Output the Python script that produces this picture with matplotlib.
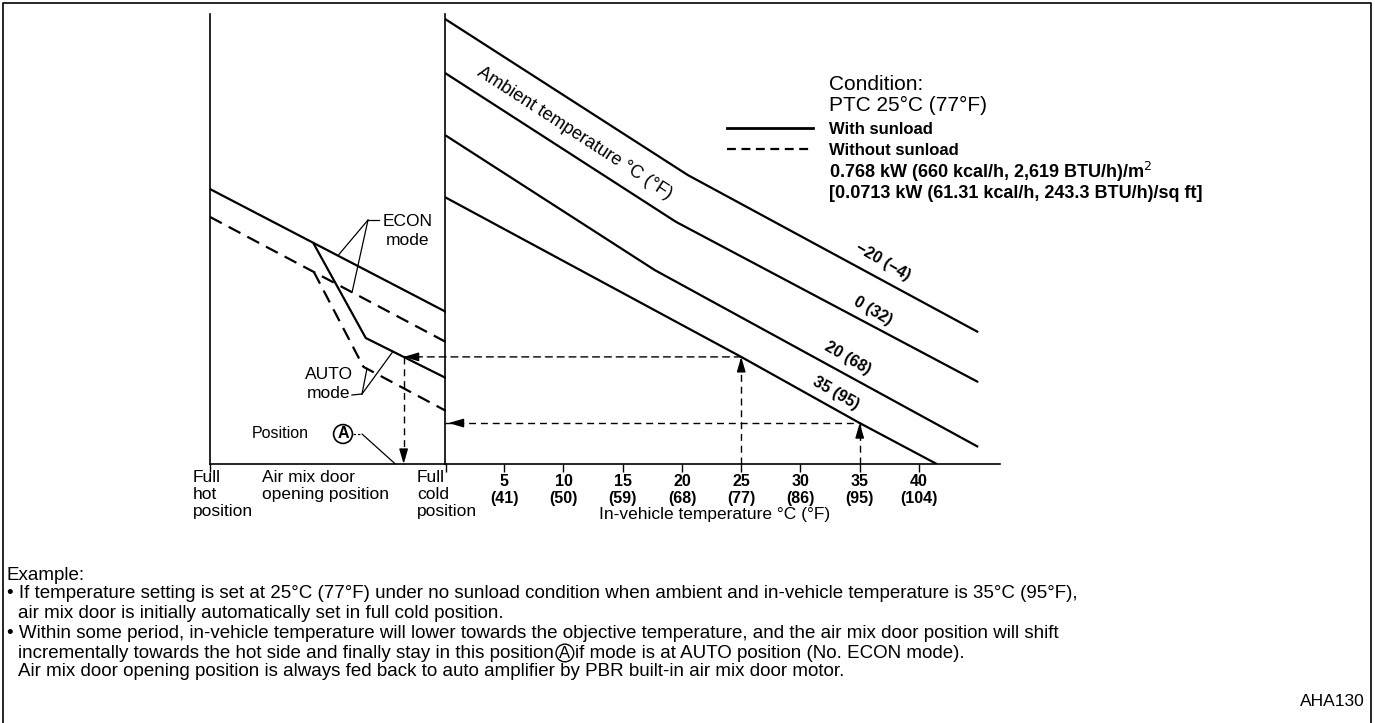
import numpy as np
import matplotlib
matplotlib.use("Agg")
from matplotlib import pyplot as plt
from matplotlib.patches import ConnectionPatch

plt.rcParams['font.family'] = ['Liberation Sans', 'DejaVu Sans']

W, H = 1375, 723

# right panel: in-vehicle temperature (deg C) vs. control level, one curve per ambient temperature
ambient_labels = ["\u221220 (\u22124)", "0 (32)", "20 (68)", "35 (95)"]
temp_m20 = [0, 20.5, 45]
level_m20 = [98.9, 64.2, 29.3]
temp_0 = [0, 19.5, 45]
level_0 = [86.9, 53.8, 18.2]
temp_20 = [0, 17.7, 45]
level_20 = [73.1, 43.1, 3.8]
temp_35 = [0, 25, 35, 41.5]
level_35 = [59.3, 23.8, 9.1, 0]

tick_c = [5, 10, 15, 20, 25, 30, 35, 40]
tick_f = [41, 50, 59, 68, 77, 86, 95, 104]

# left panel: air mix door position (0 = full hot, 100 = full cold) vs. control level
door_econ = [0, 100]
econ_sun = [61.1, 33.8]
econ_nosun = [54.9, 27.1]
door_auto_sun = [44, 66, 100]
auto_sun = [48.9, 28.0, 19.1]
door_auto_nosun = [44, 65, 100]
auto_nosun = [42.7, 21.6, 11.8]

# example from the text
set_temp = 25
start_temp = 35


def fbox(x0, y0, x1, y1):
    return [x0 / W, 1 - y1 / H, (x1 - x0) / W, (y1 - y0) / H]


fig = plt.figure(figsize=(W / 100, H / 100), dpi=100)
ax_l = fig.add_axes(fbox(210, 14, 446, 464))
ax_r = fig.add_axes(fbox(445, 14, 1000, 464))
ov = fig.add_axes([0, 0, 1, 1], zorder=5)
ov.set_xlim(0, W)
ov.set_ylim(H, 0)
ov.axis('off')
ov.patch.set_visible(False)

for ax in (ax_l, ax_r):
    ax.patch.set_visible(False)
    ax.spines['top'].set_visible(False)
    ax.spines['right'].set_visible(False)
    ax.spines['left'].set_linewidth(1.2)
    ax.spines['bottom'].set_linewidth(1.2)
    ax.set_ylim(0, 100)
    ax.set_yticks([])
    ax.tick_params(axis='x', direction='out', length=6, width=1)

lw = 1.6
dash = (0, (6, 3.5))
thin_dash = (0, (5, 3.5))

# right panel curves
curves = [(temp_m20, level_m20), (temp_0, level_0), (temp_20, level_20), (temp_35, level_35)]
for t, lv in curves:
    ax_r.plot(t, lv, color='black', lw=lw, solid_capstyle='butt')
ax_r.set_xlim(0, 46.84)
ax_r.set_xticks(tick_c, labels=[f"{c}\n({f})" for c, f in zip(tick_c, tick_f)])
for lab in ax_r.get_xticklabels():
    lab.set_fontweight('bold')
    lab.set_fontsize(11.5)
    lab.set_linespacing(1.15)
ax_r.tick_params(axis='x', pad=1)

# left panel curves
ax_l.plot(door_econ, econ_sun, color='black', lw=lw)
ax_l.plot(door_econ, econ_nosun, color='black', lw=lw, ls=dash)
ax_l.plot(door_auto_sun, auto_sun, color='black', lw=lw)
ax_l.plot(door_auto_nosun, auto_nosun, color='black', lw=lw, ls=dash)
ax_l.set_xlim(0, 100)
ax_l.set_xticks([0, 100], labels=['', ''])

# example arrows
head = dict(arrowstyle='-|>,head_length=0.75,head_width=0.22', color='black', lw=1,
            mutation_scale=12, shrinkA=0, shrinkB=0)
lvl_a = np.interp(set_temp, temp_35, level_35)
door_a = np.interp(lvl_a, auto_sun[::-1], door_auto_sun[::-1])
lvl_b = np.interp(start_temp, temp_35, level_35)

ax_r.plot([set_temp, set_temp], [0, lvl_a], color='black', lw=1, ls=thin_dash, clip_on=False)
ov.annotate('', xy=(set_temp, lvl_a), xycoords=ax_r.transData, xytext=(0, -9),
            textcoords='offset points', arrowprops=head)
con = ConnectionPatch(xyA=(set_temp, lvl_a), coordsA=ax_r.transData,
                      xyB=(door_a, lvl_a), coordsB=ax_l.transData,
                      color='black', lw=1, linestyle=thin_dash)
fig.add_artist(con)
ov.annotate('', xy=(door_a, lvl_a), xycoords=ax_l.transData, xytext=(9, 0),
            textcoords='offset points', arrowprops=head)
ax_l.plot([door_a, door_a], [lvl_a, 0], color='black', lw=1, ls=thin_dash, clip_on=False)
ov.annotate('', xy=(door_a, 0), xycoords=ax_l.transData, xytext=(0, 9),
            textcoords='offset points', arrowprops=head)

ax_r.plot([start_temp, start_temp], [0, lvl_b], color='black', lw=1, ls=thin_dash, clip_on=False)
ov.annotate('', xy=(start_temp, lvl_b), xycoords=ax_r.transData, xytext=(0, -9),
            textcoords='offset points', arrowprops=head)
ax_r.plot([0, start_temp], [lvl_b, lvl_b], color='black', lw=1, ls=thin_dash, clip_on=False)
ov.annotate('', xy=(0.3, lvl_b), xycoords=ax_r.transData, xytext=(9, 0),
            textcoords='offset points', arrowprops=head)

# curve labels
ov.text(575, 133, "Ambient temperature \u00b0C (\u00b0F)", rotation=-33, rotation_mode='anchor',
        ha='center', va='center', fontsize=13)
label_pos = [(883, 262), (873, 311), (848, 358), (836, 393)]
for txt, (x, y) in zip(ambient_labels, label_pos):
    ov.text(x, y, txt, rotation=-30, rotation_mode='anchor', ha='center', va='center',
            fontsize=11.5, fontweight='bold')

# condition block + legend
ov.text(829, 84, "Condition:", fontsize=15, va='center')
ov.text(829, 105, "PTC 25\u00b0C (77\u00b0F)", fontsize=15, va='center')
h_sun, = ax_r.plot([], [], color='black', lw=2)
h_nosun, = ax_r.plot([], [], color='black', lw=1.6, ls=(0, (4, 2.5)))
fig.legend([h_sun, h_nosun], ["With sunload", "Without sunload"], loc='upper left',
           bbox_to_anchor=(727 / W, 1 - 122 / H), frameon=False, handlelength=5.15,
           handletextpad=0.95, labelspacing=0.35, borderpad=0, borderaxespad=0,
           prop={'weight': 'bold', 'size': 12})
ov.text(829, 172, "0.768 kW (660 kcal/h, 2,619 BTU/h)/m$^2$", fontsize=13, fontweight='bold', va='center')
ov.text(829, 194, "[0.0713 kW (61.31 kcal/h, 243.3 BTU/h)/sq ft]", fontsize=13, fontweight='bold',
        va='center')

# left panel annotations
ov.text(408, 231, "ECON\nmode", ha='center', va='center', fontsize=12.5, linespacing=1.3)
ov.text(329, 384, "AUTO\nmode", ha='center', va='center', fontsize=12.5, linespacing=1.3)
ov.text(252, 434, "Position", ha='left', va='center', fontsize=11.5)
ov.text(343, 434, "A", ha='center', va='center', fontsize=11.5, fontweight='bold',
        bbox=dict(boxstyle='circle,pad=0.12', fc='white', ec='black', lw=1.2))
leader = dict(arrowstyle='-', color='black', lw=0.9, shrinkA=0, shrinkB=0)
ov.plot([368, 379], [220, 220], color='black', lw=0.9)
for u, curve in ((54.2, econ_sun), (60.2, econ_nosun)):
    ov.annotate('', xy=(u, np.interp(u, door_econ, curve)), xycoords=ax_l.transData,
                xytext=(368, 220), textcoords=ov.transData, arrowprops=leader)
ov.plot([352, 362], [395, 394], color='black', lw=0.9)
ov.annotate('', xy=(66.5, np.interp(66.5, door_auto_nosun, auto_nosun)), xycoords=ax_l.transData,
            xytext=(362, 394), textcoords=ov.transData, arrowprops=leader)
ov.annotate('', xy=(77.5, np.interp(77.5, door_auto_sun, auto_sun)), xycoords=ax_l.transData,
            xytext=(362, 394), textcoords=ov.transData, arrowprops=leader)
ov.plot([353, 362], [434, 434], color='black', lw=0.9, ls=(0, (2, 1.5)))
ov.annotate('', xy=(door_a - 3.5, 0), xycoords=ax_l.transData,
            xytext=(362, 434), textcoords=ov.transData, arrowprops=leader)

# axis captions
ov.text(193, 470, "Full\nhot\nposition", ha='left', va='top', fontsize=12.5, linespacing=1.15)
ov.text(262, 470, "Air mix door\nopening position", ha='left', va='top', fontsize=12.5, linespacing=1.15)
ov.text(417, 470, "Full\ncold\nposition", ha='left', va='top', fontsize=12.5, linespacing=1.15)
ov.text(715, 514, "In-vehicle temperature \u00b0C (\u00b0F)", ha='center', va='center', fontsize=12.5)

# example text
ex_fs = 13.5
ov.text(7, 575, "Example:", fontsize=ex_fs, va='center')
ov.text(7, 594, "\u2022 If temperature setting is set at 25\u00b0C (77\u00b0F) under no sunload condition when "
        "ambient and in-vehicle temperature is 35\u00b0C (95\u00b0F),", fontsize=ex_fs, va='center')
ov.text(18, 613, "air mix door is initially automatically set in full cold position.", fontsize=ex_fs, va='center')
ov.text(7, 634, "\u2022 Within some period, in-vehicle temperature will lower towards the objective temperature, "
        "and the air mix door position will shift", fontsize=ex_fs, va='center')
t1 = ov.text(18, 653, "incrementally towards the hot side and finally stay in this position",
             fontsize=ex_fs, va='center')
renderer = fig.canvas.get_renderer()
x_end = t1.get_window_extent(renderer).x1
ov.text(x_end + 11, 653, "A", ha='center', va='center', fontsize=12,
        bbox=dict(boxstyle='circle,pad=0.08', fc='white', ec='black', lw=1))
ov.text(x_end + 21, 653, "if mode is at AUTO position (No. ECON mode).", fontsize=ex_fs, va='center')
ov.text(18, 672, "Air mix door opening position is always fed back to auto amplifier by PBR built-in "
        "air mix door motor.", fontsize=ex_fs, va='center')
ov.text(1365, 701, "AHA130", ha='right', va='center', fontsize=12.5)

# outer frame
ov.plot([3, 3, 1371, 1371], [723, 3, 3, 723], color='black', lw=1.2)

fig.savefig("out.png", dpi=100)
